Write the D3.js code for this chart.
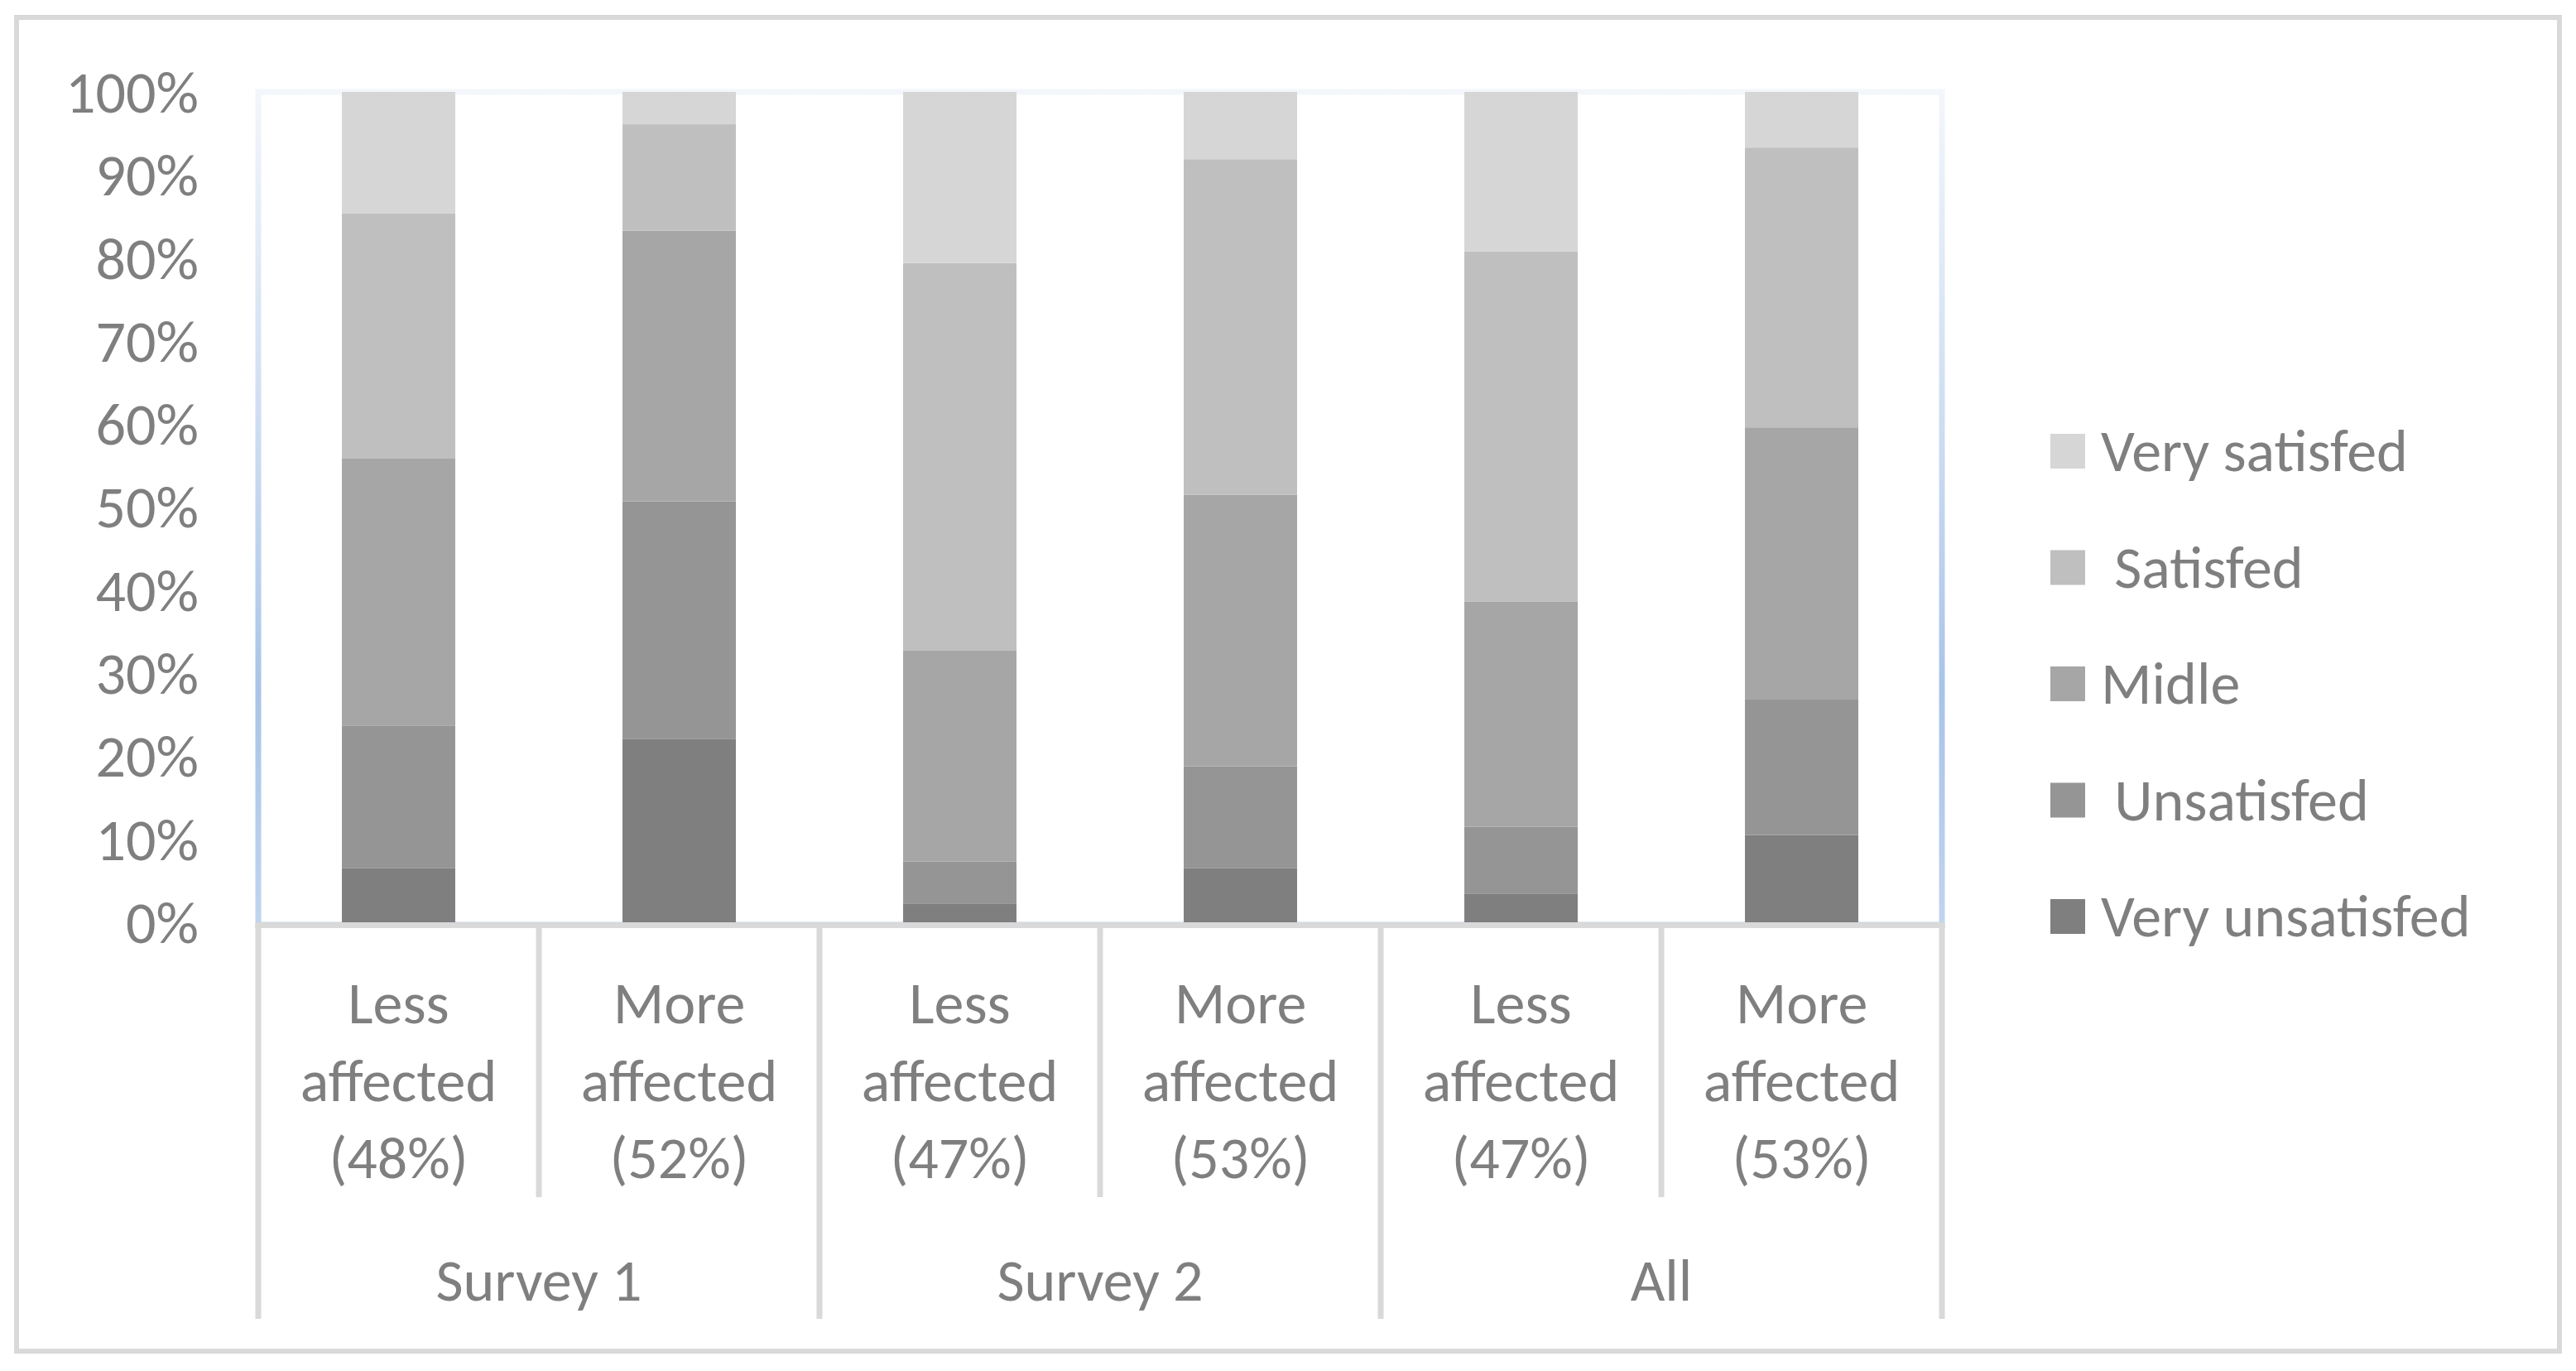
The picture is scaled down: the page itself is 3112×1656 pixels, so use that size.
<!DOCTYPE html>
<html>
<head>
<meta charset="utf-8">
<title>Satisfaction by survey</title>
<script src="https://cdn.jsdelivr.net/npm/d3@7"></script>
<style>
body { margin: 0; background: #fff; }
text { font-family: Carlito, Calibri, Lato, "Liberation Sans", sans-serif; fill: #7f7f7f; }
</style>
</head>
<body>
<div id="chart"></div>
<script>
// data (percent of each bar)
var catLines = [["Less", "affected", "(48%)"], ["More", "affected", "(52%)"],
                ["Less", "affected", "(47%)"], ["More", "affected", "(53%)"],
                ["Less", "affected", "(47%)"], ["More", "affected", "(53%)"]];
var groups = ["Survey 1", "Survey 2", "All"];
var seriesNames = ["Very unsatisfed", " Unsatisfed", "Midle", " Satisfed", "Very satisfed"];
var veryUnsat = [6.5, 22.1, 2.2, 6.5, 3.4, 10.5];
var unsat     = [17.2, 28.6, 5.1, 12.3, 8.1, 16.4];
var midle     = [32.2, 32.6, 25.4, 32.7, 27.1, 32.7];
var sat       = [29.5, 12.8, 46.7, 40.4, 42.2, 33.7];
var verySat   = [14.6, 3.9, 20.6, 8.1, 19.2, 6.7];
var colors = ["#7f7f7f", "#959595", "#a6a6a6", "#bfbfbf", "#d6d6d6"];
var yTicks = [0, 10, 20, 30, 40, 50, 60, 70, 80, 90, 100];

var W = 3112, H = 1656;
var pLeft = 312, pRight = 2346, pTop = 111, pBottom = 1114;
var fs = 72;

var table = catLines.map(function(c, i) {
	return { i: i, s0: veryUnsat[i], s1: unsat[i], s2: midle[i], s3: sat[i], s4: verySat[i] };
});
var keys = ["s0", "s1", "s2", "s3", "s4"];
var stacked = d3.stack().keys(keys)(table);

var svg = d3.select("#chart").append("svg").attr("width", W).attr("height", H);

// outer chart border
svg.append("rect").attr("x", 20).attr("y", 21).attr("width", 3072).attr("height", 1611)
	.attr("fill", "#fff").attr("stroke", "#d9d9d9").attr("stroke-width", 6);

var x = d3.scaleBand().domain(d3.range(catLines.length)).range([pLeft, pRight])
	.paddingInner(0.596).paddingOuter(0.298);
var xCat = d3.scaleBand().domain(d3.range(catLines.length)).range([pLeft, pRight]);
var y = d3.scaleLinear().domain([0, 100]).range([pBottom, pTop]);

// plot area border with soft blue gradient
var grad = svg.append("defs").append("linearGradient").attr("id", "pa")
	.attr("gradientUnits", "userSpaceOnUse").attr("x1", 0).attr("y1", pTop).attr("x2", 0).attr("y2", pBottom);
grad.append("stop").attr("offset", "0").attr("stop-color", "#f3f6fb");
grad.append("stop").attr("offset", "0.45").attr("stop-color", "#c9daf0");
grad.append("stop").attr("offset", "0.72").attr("stop-color", "#a9c4e8");
grad.append("stop").attr("offset", "1").attr("stop-color", "#c0d4ee");
svg.append("rect").attr("x", pLeft).attr("y", pTop).attr("width", pRight - pLeft).attr("height", pBottom + 3 - pTop)
	.attr("fill", "none").attr("stroke", "url(#pa)").attr("stroke-width", 7);

// bars
svg.append("g").selectAll("g").data(stacked).join("g")
	.attr("fill", function(d, k) { return colors[k]; })
	.selectAll("rect").data(function(d) { return d; }).join("rect")
	.attr("x", function(d) { return x(d.data.i); })
	.attr("width", x.bandwidth())
	.attr("y", function(d) { return y(d[1]); })
	.attr("height", function(d) { return y(d[0]) - y(d[1]); });

// y axis
var yAxis = svg.append("g").attr("transform", "translate(" + (pLeft - 72) + ",0)")
	.call(d3.axisLeft(y).tickValues(yTicks).tickSize(0).tickPadding(0)
		.tickFormat(function(d) { return d + "%"; }));
yAxis.select(".domain").remove();
yAxis.selectAll("text").attr("font-size", fs).attr("font-family", null).attr("fill", null).attr("dy", "0.34em");

// category axis: baseline and separators
var lineCol = "#d9d9d9";
svg.append("line").attr("x1", pLeft - 3.5).attr("x2", pRight + 3.5).attr("y1", pBottom + 3.5).attr("y2", pBottom + 3.5)
	.attr("stroke", lineCol).attr("stroke-width", 7);
d3.range(catLines.length + 1).forEach(function(k) {
	var xx = k < catLines.length ? xCat(k) : pRight;
	svg.append("line").attr("x1", xx).attr("x2", xx).attr("y1", pBottom + 3.5)
		.attr("y2", k % 2 === 0 ? 1593 : 1446)
		.attr("stroke", lineCol).attr("stroke-width", 7);
});

var catG = svg.append("g").selectAll("text").data(catLines).join("text")
	.attr("text-anchor", "middle").attr("font-size", fs)
	.attr("transform", function(d, i) { return "translate(" + (xCat(i) + xCat.bandwidth() / 2) + ",0)"; });
catG.selectAll("tspan").data(function(d) { return d; }).join("tspan")
	.attr("x", 0).attr("y", function(d, j) { return 1236 + j * 93.5; })
	.text(function(d) { return d; });

svg.append("g").selectAll("text").data(groups).join("text")
	.attr("text-anchor", "middle").attr("font-size", fs)
	.attr("x", function(d, g) { return (xCat(g * 2) + xCat(g * 2 + 1) + xCat.bandwidth()) / 2; })
	.attr("y", 1571)
	.text(function(d) { return d; });

// legend, top to bottom reversed like the stack
var leg = svg.append("g").selectAll("g").data(seriesNames.slice().reverse()).join("g")
	.attr("transform", function(d, i) { return "translate(2477," + (545 + i * 140.5) + ")"; });
leg.append("rect").attr("x", 0).attr("y", -21).attr("width", 42).attr("height", 42)
	.attr("fill", function(d, i) { return colors[colors.length - 1 - i]; });
leg.append("text").attr("x", 61).attr("y", 24).attr("font-size", fs)
	.style("white-space", "pre")
	.text(function(d) { return d; });
</script>
</body>
</html>
